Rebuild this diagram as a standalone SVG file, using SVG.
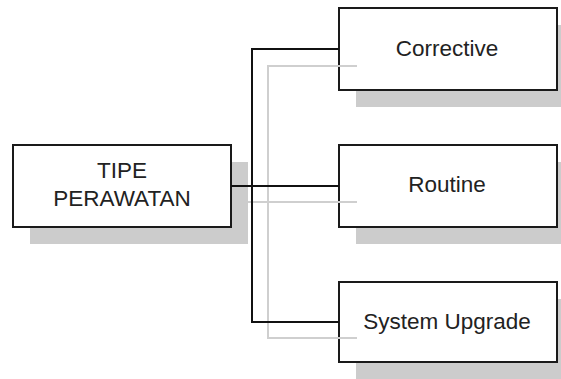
<svg xmlns="http://www.w3.org/2000/svg" width="561" height="379" viewBox="0 0 561 379">
<style>
.shadow{fill:#cccccc;stroke:none}
.box{fill:#ffffff;stroke:#1a1a1a;stroke-width:2}
.lbl{font-family:"Liberation Sans",Arial,sans-serif;font-size:22.5px;fill:#222222;text-anchor:middle}
.conn{fill:none;stroke:#111111;stroke-width:2}
.connsh{fill:none;stroke:#cfcfcf;stroke-width:2}
</style>
<rect width="561" height="379" fill="#ffffff"/>
<g id="node-tipe">
<rect class="shadow" x="30" y="162" width="218" height="82"/>
<rect class="box" x="13" y="145" width="218" height="82"/>
<text class="lbl" x="122" y="178">TIPE</text>
<text class="lbl" x="122" y="206">PERAWATAN</text>
</g>
<g id="node-corrective">
<rect class="shadow" x="356" y="25" width="218" height="82"/>
<rect class="box" x="339" y="8" width="218" height="82"/>
<text class="lbl" x="447" y="56">Corrective</text>
</g>
<g id="node-routine">
<rect class="shadow" x="356" y="162" width="218" height="82"/>
<rect class="box" x="339" y="145" width="218" height="82"/>
<text class="lbl" x="447" y="192">Routine</text>
</g>
<g id="node-upgrade">
<rect class="shadow" x="356" y="299" width="218" height="82"/>
<rect class="box" x="339" y="282" width="218" height="80"/>
<text class="lbl" x="447" y="329">System Upgrade</text>
</g>
<g id="connectors">
<path class="connsh" d="M357 66H268V338H357M248 202H357"/>
<path class="conn" d="M339 49H252V322H339M231 186H339"/>
</g>
</svg>
